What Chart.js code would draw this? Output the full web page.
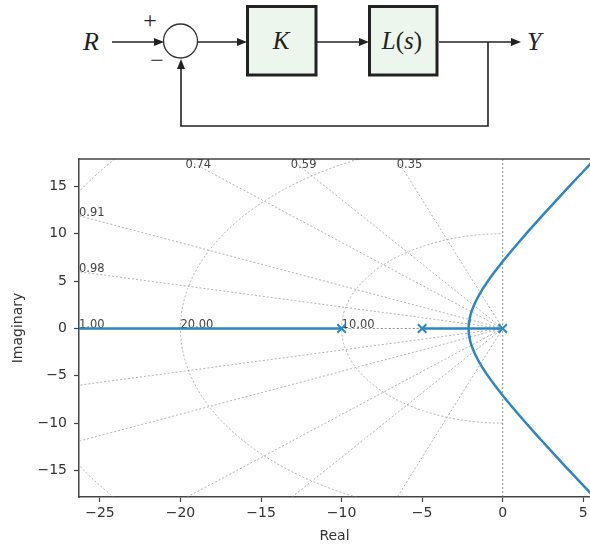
<!DOCTYPE html>
<html>
<head>
<meta charset="utf-8">
<script src="https://cdn.jsdelivr.net/npm/chart.js@4.4.1/dist/chart.umd.min.js"></script>
<style>
  html, body { margin:0; padding:0; background:#fff; overflow:hidden; width:590px; height:549px; }
  #diagram { position:absolute; left:0; top:0; }
  #wrap { position:absolute; left:0; top:150px; width:590px; height:399px; }
</style>
</head>
<body>
<svg id="diagram" width="590" height="140" xmlns="http://www.w3.org/2000/svg">
  <g stroke="#222" stroke-width="1.6" fill="none">
    <line x1="112" y1="42" x2="156" y2="42"/>
    <line x1="198" y1="42" x2="239" y2="42"/>
    <line x1="317" y1="42" x2="361" y2="42"/>
    <line x1="439" y1="42" x2="513" y2="42"/>
    <polyline points="488,42 488,126 181,126 181,67"/>
  </g>
  <g fill="#222">
    <polygon points="164,42 154,38 154,46"/>
    <polygon points="247,42 237,38 237,46"/>
    <polygon points="369,42 359,38 359,46"/>
    <polygon points="521,42 511,38 511,46"/>
    <polygon points="181,59 177,69 185,69"/>
  </g>
  <circle cx="180.5" cy="41" r="17" fill="#fff" stroke="#333" stroke-width="1.3"/>
  <rect x="247.5" y="6.5" width="68.5" height="68.5" fill="#ecf6ec" stroke="#222" stroke-width="3"/>
  <rect x="369.5" y="6.5" width="67.5" height="68.5" fill="#ecf6ec" stroke="#222" stroke-width="3"/>
  <g font-family="'Liberation Serif', 'DejaVu Serif', serif" fill="#222">
    <text x="83" y="50" font-size="26" font-style="italic">R</text>
    <text x="150" y="28" font-size="24" text-anchor="middle">+</text>
    <text x="157" y="68" font-size="24" text-anchor="middle">−</text>
    <text x="281" y="49" font-size="25" font-style="italic" text-anchor="middle">K</text>
    <text x="402" y="49" font-size="25" text-anchor="middle"><tspan font-style="italic">L</tspan>(<tspan font-style="italic">s</tspan>)</text>
    <text x="527" y="50" font-size="26" font-style="italic">Y</text>
  </g>
</svg>
<div id="wrap"><canvas id="c"></canvas></div>
<script>
// ---- data ----
const poles = [0, -5, -10];
// upper complex branch of the locus (real part, imaginary part)
const locusRe = [-2.113, -2.11, -2.1, -2.08, -2.05, -2.0, -1.95, -1.9, -1.75, -1.5, -1.25, -1.0, -0.75, -0.5, -0.25, 0, 0.5, 1, 1.5, 2, 2.5, 3, 3.5, 4, 4.5, 5, 5.5, 6];
const locusIm = [0, 0.24, 0.48, 0.76, 1.05, 1.41, 1.71, 1.96, 2.59, 3.43, 4.15, 4.80, 5.40, 5.98, 6.53, 7.07, 8.11, 9.11, 10.09, 11.05, 11.99, 12.92, 13.85, 14.77, 15.68, 16.58, 17.49, 18.39];
const locusImLower = locusIm.map(v => -v); // conjugate branch
const breakaway = -2.113;
const leftBranchEnd = -40;
// grid (damping ratios and natural frequencies)
const zetaValues = [1.0, 0.975, 0.911, 0.740, 0.592, 0.345];
const zetaLabels = ['1.00', '0.98', '0.91', '0.74', '0.59', '0.35'];
const wnValues = [10, 20, 30];
const wnLabels = ['10.00', '20.00', '30.00'];
// axes
const xMin = -26.3, xMax = 5.42, yMin = -17.8, yMax = 17.9;

const blue = '#2d86c1';
const fmt = v => String(v).replace('-', '\u2212');

const upper = [{x: 0, y: 0}, {x: breakaway, y: 0}].concat(locusRe.map((r, i) => ({x: r, y: locusIm[i]})));
const lower = [{x: -5, y: 0}, {x: breakaway, y: 0}].concat(locusRe.map((r, i) => ({x: r, y: locusImLower[i]})));
const leftBranch = [{x: poles[2], y: 0}, {x: leftBranchEnd, y: 0}];

const sgrid = {
  id: 'sgrid',
  beforeDatasetsDraw(chart) {
    const {ctx, chartArea: a, scales: {x, y}} = chart;
    const x0 = x.getPixelForValue(0), y0 = y.getPixelForValue(0);
    const kx = x.getPixelForValue(1) - x0, ky = y0 - y.getPixelForValue(1);
    ctx.save();
    ctx.beginPath(); ctx.rect(a.left, a.top, a.right - a.left, a.bottom - a.top); ctx.clip();
    ctx.lineWidth = 1;
    ctx.setLineDash([2, 2]);
    ctx.strokeStyle = 'rgba(140,140,140,0.65)';
    zetaValues.forEach(z => {
      const th = Math.acos(z);
      [1, -1].forEach(s => {
        ctx.beginPath();
        ctx.moveTo(x0, y0);
        ctx.lineTo(x.getPixelForValue(-100 * Math.cos(th)), y.getPixelForValue(s * 100 * Math.sin(th)));
        ctx.stroke();
      });
    });
    wnValues.forEach(w => {
      ctx.beginPath();
      ctx.ellipse(x0, y0, w * kx, w * ky, 0, Math.PI / 2, 3 * Math.PI / 2);
      ctx.stroke();
    });
    ctx.strokeStyle = 'rgba(110,110,110,0.8)';
    ctx.beginPath(); ctx.moveTo(x0, a.top); ctx.lineTo(x0, a.bottom); ctx.stroke();
    ctx.setLineDash([]);
    // labels
    ctx.font = '11.5px "DejaVu Sans"';
    ctx.fillStyle = '#444';
    ctx.textAlign = 'left';
    zetaValues.forEach((z, i) => {
      const th = Math.acos(z);
      const c = Math.cos(th), s = Math.sin(th);
      const tLeft = c > 1e-9 ? -xMin / c : Infinity;
      const tTop = s > 1e-9 ? yMax / s : Infinity;
      if (tLeft <= tTop) {
        ctx.textBaseline = 'alphabetic';
        ctx.fillText(zetaLabels[i], a.left, y.getPixelForValue(tLeft * s));
      } else {
        ctx.textBaseline = 'top';
        ctx.fillText(zetaLabels[i], x.getPixelForValue(-tTop * c), a.top);
      }
    });
    ctx.textBaseline = 'alphabetic';
    wnValues.forEach((w, i) => {
      if (-w >= xMin) ctx.fillText(wnLabels[i], x.getPixelForValue(-w), y0);
    });
    ctx.restore();
  },
  afterDraw(chart) {
    const {ctx, chartArea: a} = chart;
    ctx.save();
    ctx.strokeStyle = '#444'; ctx.lineWidth = 1.5;
    ctx.beginPath(); ctx.moveTo(a.left, a.top); ctx.lineTo(a.right + 2, a.top); ctx.stroke();
    ctx.restore();
  }
};

const lineDs = (data) => ({
  data, showLine: true, borderColor: blue, borderWidth: 2.5, pointRadius: 0, fill: false, tension: 0
});

new Chart(document.getElementById('c'), {
  type: 'scatter',
  data: {
    datasets: [
      lineDs(leftBranch),
      lineDs(upper),
      lineDs(lower),
      {
        data: poles.map(p => ({x: p, y: 0})), showLine: false, pointStyle: 'crossRot',
        pointRadius: 6, pointBorderWidth: 2, borderColor: blue, backgroundColor: blue
      }
    ]
  },
  options: {
    responsive: true, maintainAspectRatio: false, animation: false, devicePixelRatio: 1,
    layout: {autoPadding: false, padding: {top: 9, right: 0, left: 0, bottom: 0}},
    plugins: {legend: {display: false}, tooltip: {enabled: false}},
    scales: {
      x: {
        type: 'linear', min: xMin, max: xMax,
        ticks: {stepSize: 5, includeBounds: false, color: '#333', padding: 3,
          font: {family: 'DejaVu Sans', size: 14}, callback: fmt, maxRotation: 0},
        grid: {drawOnChartArea: false, drawTicks: true, tickLength: 5, tickColor: '#444', tickWidth: 1.2},
        border: {color: '#444', width: 1.5},
        title: {display: true, text: 'Real', color: '#333', font: {family: 'DejaVu Sans', size: 14}, padding: {top: 4, bottom: 4}},
        afterFit(s) { s.height = 52; s.paddingLeft = 0; s.paddingRight = 0; }
      },
      y: {
        type: 'linear', min: yMin, max: yMax,
        ticks: {stepSize: 5, includeBounds: false, color: '#333', padding: 7,
          font: {family: 'DejaVu Sans', size: 14}, callback: fmt},
        grid: {drawOnChartArea: false, drawTicks: true, tickLength: 5, tickColor: '#444', tickWidth: 1.2},
        border: {color: '#444', width: 1.5},
        title: {display: true, text: 'Imaginary', color: '#333', font: {family: 'DejaVu Sans', size: 14}, padding: {top: 10, bottom: 0}},
        afterFit(s) { s.width = 79; s.paddingTop = 0; s.paddingBottom = 0; }
      }
    }
  },
  plugins: [sgrid]
});
</script>
</body>
</html>
